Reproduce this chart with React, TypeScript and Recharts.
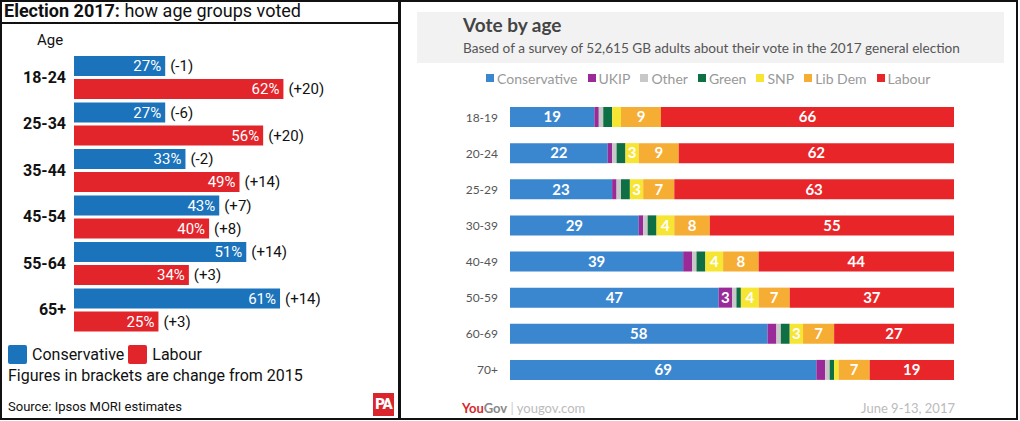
import React from 'react';
import { BarChart, Bar, XAxis, YAxis, LabelList } from 'recharts';

// ---- Left chart (PA / Ipsos MORI) ----
const leftAges = ['18-24', '25-34', '35-44', '45-54', '55-64', '65+'];
const leftCon = [27, 27, 33, 43, 51, 61];
const leftLab = [62, 56, 49, 40, 34, 25];
const leftConChange = ['-1', '-6', '-2', '+7', '+14', '+14'];
const leftLabChange = ['+20', '+20', '+14', '+8', '+3', '+3'];

// ---- Right chart (YouGov) ----
const rightAges = ['18-19', '20-24', '25-29', '30-39', '40-49', '50-59', '60-69', '70+'];
const conservative = [19, 22, 23, 29, 39, 47, 58, 69];
const ukip = [1, 1, 1, 1, 2, 3, 2, 2];
const other = [1, 1, 1, 1, 1, 1, 1, 1];
const green = [2, 2, 2, 2, 2, 1, 2, 1];
const snp = [2, 3, 3, 4, 4, 4, 3, 1];
const libDem = [9, 9, 7, 8, 8, 7, 7, 7];
const labour = [66, 62, 63, 55, 44, 37, 27, 19];

const leftData = leftAges.map((age, i) => ({
  age,
  con: leftCon[i],
  lab: leftLab[i],
  conChg: leftConChange[i],
  labChg: leftLabChange[i],
}));

const rightData = rightAges.map((age, i) => ({
  age,
  Conservative: conservative[i],
  UKIP: ukip[i],
  Other: other[i],
  Green: green[i],
  SNP: snp[i],
  'Lib Dem': libDem[i],
  Labour: labour[i],
}));

const rightSeries = [
  { key: 'Conservative', color: '#3a86cf' },
  { key: 'UKIP', color: '#9a2a98' },
  { key: 'Other', color: '#c8c8c8' },
  { key: 'Green', color: '#0e6e44' },
  { key: 'SNP', color: '#f7e534' },
  { key: 'Lib Dem', color: '#f6ad33' },
  { key: 'Labour', color: '#e8262a' },
];

const PA_BLUE = '#1a73bb';
const PA_RED = '#e2242b';
const LF = 'Roboto, "Noto Sans", sans-serif';
const RF = 'Lato, "Open Sans", sans-serif';

const LeftTick = (props: any) => {
  const { x, y, payload } = props;
  return (
    <text x={x} y={y} textAnchor="end" dominantBaseline="central" fontFamily={LF} fontSize={16} fontWeight={700} fill="#111">
      {payload.value}
    </text>
  );
};

const RightTick = (props: any) => {
  const { x, y, payload } = props;
  return (
    <text x={x - 4} y={y} textAnchor="end" dominantBaseline="central" fontFamily={RF} fontSize={12} fill="#555">
      {payload.value}
    </text>
  );
};

export default function App() {
  return (
    <div style={{ position: 'absolute', left: 0, top: 0, width: 1020, height: 421, background: '#fff', overflow: 'hidden' }}>
      {/* Left panel frame */}
      <div style={{ position: 'absolute', left: 0, top: 0, width: 396, height: 416, border: '2px solid #111' }} />
      <div style={{ position: 'absolute', left: 0, top: 22, width: 399, height: 2, background: '#111' }} />
      <div style={{ position: 'absolute', left: 4, top: 0, height: 22, lineHeight: '22px', fontFamily: LF, fontSize: 18, color: '#111', whiteSpace: 'nowrap' }}>
        <span style={{ fontWeight: 700 }}>Election 2017:</span> how age groups voted
      </div>
      <div style={{ position: 'absolute', left: 37, top: 31, fontFamily: LF, fontSize: 15, color: '#111' }}>Age</div>

      <div style={{ position: 'absolute', left: 0, top: 0 }}>
        <BarChart width={399} height={421} data={leftData} layout="vertical" margin={{ top: 54, bottom: 88, left: 0, right: 21 }} barSize={20} barGap={3}>
          <XAxis type="number" domain={[0, 90]} hide />
          <YAxis type="category" dataKey="age" width={74} axisLine={false} tickLine={false} tick={<LeftTick />} />
          <Bar dataKey="con" name="Conservative" fill={PA_BLUE} isAnimationActive={false}>
            <LabelList dataKey="con" position="insideRight" offset={4} formatter={(v: any) => `${v}%`} fill="#fff" fontFamily={LF} fontSize={15} />
            <LabelList dataKey="conChg" position="right" offset={5} formatter={(v: any) => `(${v})`} fill="#111" fontFamily={LF} fontSize={15} />
          </Bar>
          <Bar dataKey="lab" name="Labour" fill={PA_RED} isAnimationActive={false}>
            <LabelList dataKey="lab" position="insideRight" offset={4} formatter={(v: any) => `${v}%`} fill="#fff" fontFamily={LF} fontSize={15} />
            <LabelList dataKey="labChg" position="right" offset={5} formatter={(v: any) => `(${v})`} fill="#111" fontFamily={LF} fontSize={15} />
          </Bar>
        </BarChart>
      </div>

      {/* Left legend */}
      <div style={{ position: 'absolute', left: 8, top: 345, display: 'flex', alignItems: 'center', fontFamily: LF, fontSize: 16, color: '#111', whiteSpace: 'nowrap', height: 19 }}>
        <span style={{ width: 19, height: 19, background: PA_BLUE, borderRadius: 2, marginRight: 5 }} />
        <span style={{ marginRight: 4 }}>Conservative</span>
        <span style={{ width: 19, height: 19, background: PA_RED, borderRadius: 2, marginRight: 5 }} />
        <span>Labour</span>
      </div>
      <div style={{ position: 'absolute', left: 8, top: 366, fontFamily: LF, fontSize: 16, color: '#111', whiteSpace: 'nowrap' }}>
        Figures in brackets are change from 2015
      </div>
      <div style={{ position: 'absolute', left: 8, top: 399, fontFamily: LF, fontSize: 13, color: '#111', whiteSpace: 'nowrap' }}>
        Source: Ipsos MORI estimates
      </div>
      <div style={{ position: 'absolute', left: 373, top: 393, width: 21, height: 23, background: '#d9262c', color: '#fff', fontFamily: LF, fontWeight: 900, fontSize: 15, lineHeight: '23px', textAlign: 'center', letterSpacing: -1 }}>
        PA
      </div>

      {/* Right panel frame */}
      <div style={{ position: 'absolute', left: 399, top: 0, width: 615, height: 416, border: '2px solid #111' }} />
      <div style={{ position: 'absolute', left: 417, top: 12, width: 587, height: 51, background: '#f2f2f3' }} />
      <div style={{ position: 'absolute', left: 463, top: 13, fontFamily: RF, fontSize: 19, fontWeight: 700, color: '#444', whiteSpace: 'nowrap' }}>
        Vote by age
      </div>
      <div style={{ position: 'absolute', left: 463, top: 40, fontFamily: RF, fontSize: 13.6, color: '#555', whiteSpace: 'nowrap' }}>
        Based of a survey of 52,615 GB adults about their vote in the 2017 general election
      </div>

      {/* Right legend */}
      <div style={{ position: 'absolute', left: 486, top: 70, height: 16, display: 'flex', alignItems: 'center', fontFamily: RF, fontSize: 14, color: '#999', whiteSpace: 'nowrap' }}>
        {rightSeries.map((s) => (
          <span key={s.key} style={{ display: 'flex', alignItems: 'center', marginRight: 10 }}>
            <span style={{ width: 8, height: 8, background: s.color, marginRight: 3 }} />
            <span>{s.key}</span>
          </span>
        ))}
      </div>

      <div style={{ position: 'absolute', left: 0, top: 0 }}>
        <BarChart width={1020} height={421} data={rightData} layout="vertical" margin={{ top: 99, bottom: 33, left: 440, right: 66 }} barSize={20}>
          <XAxis type="number" domain={[0, 100]} hide />
          <YAxis type="category" dataKey="age" width={70} axisLine={false} tickLine={false} tick={<RightTick />} />
          {rightSeries.map((s) => (
            <Bar key={s.key} dataKey={s.key} stackId="a" fill={s.color} isAnimationActive={false}>
              <LabelList
                dataKey={s.key}
                position="center"
                formatter={(v: any) => (v >= 3 ? String(v) : '')}
                fill="#fff"
                fontFamily={RF}
                fontWeight={700}
                fontSize={15}
              />
            </Bar>
          ))}
        </BarChart>
      </div>

      <div style={{ position: 'absolute', left: 462, top: 400, fontFamily: RF, fontSize: 13, whiteSpace: 'nowrap', color: '#bbb' }}>
        <span style={{ color: '#d8262c', fontWeight: 700 }}>You</span>
        <span style={{ color: '#888', fontWeight: 700 }}>Gov</span>
        <span style={{ color: '#ccc' }}> | </span>
        <span style={{ color: '#bbb' }}>yougov.com</span>
      </div>
      <div style={{ position: 'absolute', right: 65, top: 400, fontFamily: RF, fontSize: 13, color: '#bbb', whiteSpace: 'nowrap' }}>
        June 9-13, 2017
      </div>
    </div>
  );
}
